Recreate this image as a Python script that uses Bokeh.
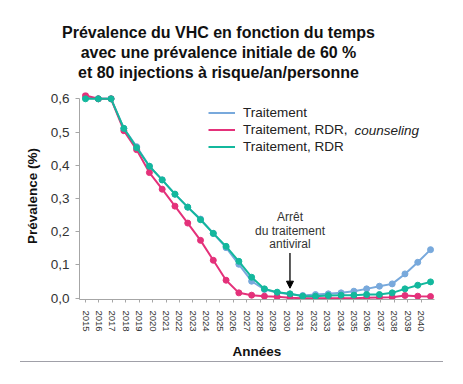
from bokeh.plotting import figure
from bokeh.models import (Range1d, FixedTicker, CustomJSTickFormatter, Legend, LegendItem,
                          Label, Arrow, NormalHead, Div)
from bokeh.layouts import column
from bokeh.embed import file_html
from bokeh.resources import INLINE

# ---------------- data ----------------
title_lines = ["Prévalence du VHC en fonction du temps",
               "avec une prévalence initiale de 60 %",
               "et 80 injections à risque/an/personne"]
years = list(range(2015, 2041))          # tick labels on the x axis
steps = list(range(28))                  # simulation time steps (points on the curves)
traitement = [0.603, 0.600, 0.600, 0.511, 0.456, 0.397, 0.356, 0.313, 0.274, 0.238,
              0.195, 0.152, 0.102, 0.051, 0.026, 0.017, 0.012, 0.008, 0.011, 0.013,
              0.016, 0.021, 0.028, 0.036, 0.043, 0.073, 0.108, 0.146]
rdr_counseling = [0.610, 0.600, 0.600, 0.504, 0.447, 0.378, 0.328, 0.277, 0.226, 0.174,
                  0.114, 0.054, 0.016, 0.009, 0.006, 0.004, 0.001, 0.000, 0.000, 0.000,
                  0.000, 0.000, 0.001, 0.002, 0.003, 0.008, 0.006, 0.005]
rdr = [0.600, 0.600, 0.600, 0.511, 0.453, 0.397, 0.356, 0.313, 0.274, 0.236,
       0.195, 0.156, 0.111, 0.063, 0.028, 0.018, 0.013, 0.006, 0.006, 0.008,
       0.009, 0.009, 0.011, 0.011, 0.016, 0.028, 0.039, 0.049]
y_ticks = [0.0, 0.1, 0.2, 0.3, 0.4, 0.5, 0.6]
stop_step = 16                           # "Arrêt du traitement antiviral"
note_lines = ["Arrêt", "du traitement", "antiviral"]

FONT = "Liberation Sans"
BLUE, PINK, TEAL = "#78a9dc", "#e4317a", "#13b89d"

# ---------------- title block ----------------
t = figure(width=455, height=88, output_backend="svg", toolbar_location=None,
           x_range=Range1d(0, 1), y_range=Range1d(0, 1),
           x_axis_location=None, y_axis_location=None,
           min_border=0, min_border_left=0, min_border_right=0,
           min_border_top=0, min_border_bottom=0)
t.frame_align = False
t.outline_line_color = None
t.xgrid.visible = False
t.ygrid.visible = False
for i, line in enumerate(title_lines):
    t.add_layout(Label(x=218, y=56.3 - i * 20.2, x_units="screen", y_units="screen",
                       text=line, text_font=FONT, text_font_size="16px",
                       text_font_style="bold", text_color="#111111",
                       text_align="center", text_baseline="middle"))

# ---------------- chart ----------------
p = figure(width=455, height=273, output_backend="svg", toolbar_location=None,
           x_range=Range1d(2014.553, 2041.0), y_range=Range1d(-0.004, 0.619),
           min_border_left=79, min_border_right=21, min_border_top=4, min_border_bottom=59)
p.frame_align = False
p.extra_x_ranges = {"step": Range1d(-0.47, 27.31)}
p.outline_line_color = None
p.xgrid.visible = False
p.ygrid.visible = False

# axes
p.xaxis.ticker = FixedTicker(ticks=years)
p.xaxis.major_label_orientation = "vertical"
p.xaxis.major_label_text_font = FONT
p.xaxis.major_label_text_font_size = "9.5px"
p.xaxis.major_label_text_color = "#333333"
p.xaxis.major_label_standoff = 8
p.xaxis.major_tick_out = 3
p.xaxis.major_tick_in = 0
p.xaxis.minor_tick_line_color = None
p.xaxis.axis_label = "Années"
p.xaxis.axis_label_text_font = FONT
p.xaxis.axis_label_text_font_style = "bold"
p.xaxis.axis_label_text_font_size = "13.5px"
p.xaxis.axis_label_text_color = "#111111"
p.xaxis.axis_label_standoff = 9

p.yaxis.ticker = FixedTicker(ticks=y_ticks)
p.yaxis.bounds = (-0.004, 0.6)
p.yaxis.formatter = CustomJSTickFormatter(code="return tick.toFixed(1).replace('.', ',');")
p.yaxis.major_label_text_font = FONT
p.yaxis.major_label_text_font_size = "13.5px"
p.yaxis.major_label_text_color = "#333333"
p.yaxis.major_label_standoff = 6
p.yaxis.major_tick_out = 4
p.yaxis.major_tick_in = 0
p.yaxis.minor_tick_line_color = None
p.yaxis.axis_label = "Prévalence (%)"
p.yaxis.axis_label_text_font = FONT
p.yaxis.axis_label_text_font_style = "bold"
p.yaxis.axis_label_text_font_size = "13.5px"
p.yaxis.axis_label_text_color = "#111111"
p.yaxis.axis_label_standoff = 8

for ax in (p.xaxis, p.yaxis):
    ax.axis_line_color = "#a6a6a6"
    ax.major_tick_line_color = "#a6a6a6"

# series
r_blue = p.line(steps, traitement, x_range_name="step", line_color=BLUE, line_width=2)
p.scatter(steps, traitement, x_range_name="step", size=6, fill_color=BLUE, line_color=BLUE)
r_pink = p.line(steps, rdr_counseling, x_range_name="step", line_color=PINK, line_width=2)
p.scatter(steps, rdr_counseling, x_range_name="step", size=6, fill_color=PINK, line_color=PINK)
r_teal = p.line(steps, rdr, x_range_name="step", line_color=TEAL, line_width=2)
p.scatter(steps, rdr, x_range_name="step", size=6, fill_color=TEAL, line_color=TEAL)

# legend
GW, GH, SP, STANDOFF = 27, 15, 2, 8
LX, LY = 129, 145
legend = Legend(items=[LegendItem(label="Traitement", renderers=[r_blue]),
                       LegendItem(label="Traitement, RDR,", renderers=[r_pink]),
                       LegendItem(label="Traitement, RDR", renderers=[r_teal])],
                location=(LX, LY), glyph_width=GW, glyph_height=GH, label_height=GH,
                spacing=SP, label_standoff=STANDOFF, padding=0, margin=0,
                border_line_alpha=0, background_fill_alpha=0,
                label_text_font=FONT, label_text_font_size="13.5px",
                label_text_color="#222222")
p.add_layout(legend)
legend_top = LY + 3 * GH + 2 * SP
p.add_layout(Label(x=LX + GW + STANDOFF + 111, y=legend_top - GH / 2 - (GH + SP),
                   x_units="screen", y_units="screen", text="counseling",
                   text_font=FONT, text_font_size="13.5px", text_font_style="italic",
                   text_color="#222222", text_baseline="middle", text_align="left"))

# annotation: treatment stop
for i, line in enumerate(note_lines):
    p.add_layout(Label(x=stop_step, y=0.245 - i * 0.0415, x_range_name="step", text=line,
                       text_font=FONT, text_font_size="12px", text_color="#333333",
                       text_align="center", text_baseline="middle"))
p.add_layout(Arrow(x_start=stop_step, y_start=0.136, x_end=stop_step, y_end=0.030,
                   x_range_name="step", line_color="black", line_width=1.3,
                   end=NormalHead(size=7, fill_color="black", line_color="black")))

sep = Div(width=423, height=2, margin=(0, 0, 0, 20),
          styles={"border-top": "1px solid #a0a0a8"})

layout = column(t, p, sep, spacing=0)
open("out.html", "w").write(file_html(layout, INLINE))
